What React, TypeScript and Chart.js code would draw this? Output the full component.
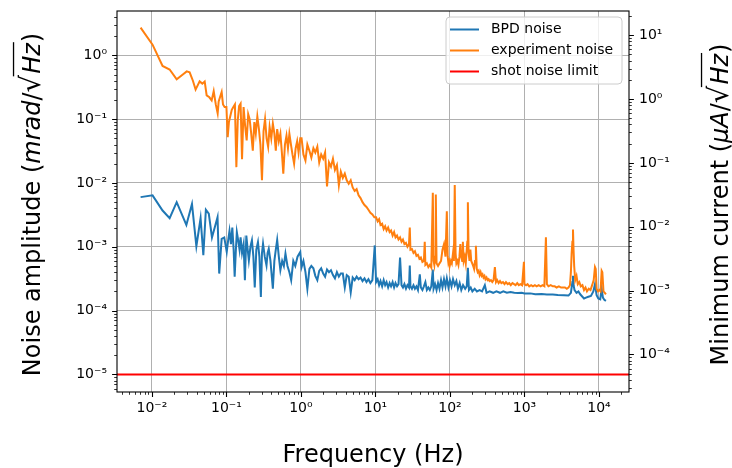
import React, { useEffect, useRef } from 'react';
import { Chart, registerables } from 'chart.js';

Chart.register(...registerables);

// ---- axis limits & ticks ----
const X_MIN = 0.0034;
const X_MAX = 25300;
const Y_MIN = 5.3e-6;
const Y_MAX = 4.95;
const RIGHT_FACTOR = 4.85; // right axis = left axis * factor
const X_TICKS = [1e-2, 1e-1, 1, 10, 100, 1000, 1e4];
const Y_TICKS = [1e-5, 1e-4, 1e-3, 1e-2, 1e-1, 1];
const Y2_TICKS = [1e-4, 1e-3, 1e-2, 1e-1, 1, 10];

const SERIES_LABELS = ['BPD noise', 'experiment noise', 'shot noise limit'];
const SERIES_COLORS = ['#1f77b4', '#ff7f0e', '#ff0000'];
const X_TITLE = 'Frequency (Hz)';

// ---- BPD noise: [frequency Hz, amplitude] ----
const bpdNoise: [number, number][] = [
  [0.00705, 0.006], [0.0102, 0.0064], [0.0139, 0.0037], [0.0173, 0.0028], [0.0215, 0.005],
  [0.029, 0.0022], [0.0345, 0.0047], [0.0395, 0.00102], [0.045, 0.0028], [0.049, 0.00074],
  [0.053, 0.0038], [0.058, 0.0033], [0.064, 0.0014], [0.076, 0.0029], [0.08, 0.00038],
  [0.0863, 0.00133], [0.0935, 0.0014], [0.101, 0.00083], [0.105, 0.0012], [0.11, 0.00177],
  [0.115, 0.0011], [0.12, 0.002], [0.125, 0.0009], [0.129, 0.00034], [0.134, 0.0009],
  [0.138, 0.0017], [0.144, 0.00126], [0.15, 0.0009], [0.155, 0.0014], [0.162, 0.0008],
  [0.17, 0.0011], [0.177, 0.0003], [0.185, 0.0015], [0.193, 0.0009], [0.2, 0.00061],
  [0.21, 0.001], [0.22, 0.00126], [0.23, 0.0007], [0.24, 0.00023], [0.252, 0.0009],
  [0.265, 0.00118], [0.277, 0.0007], [0.29, 0.000163], [0.3, 0.0008], [0.31, 0.00112],
  [0.327, 0.0007], [0.345, 0.00051], [0.357, 0.0008], [0.37, 0.00093], [0.39, 0.0006],
  [0.42, 0.00022], [0.44, 0.0006], [0.46, 0.0009], [0.48, 0.00128], [0.505, 0.0007],
  [0.53, 0.00043], [0.56, 0.0006], [0.59, 0.0005], [0.62, 0.00078], [0.66, 0.0005],
  [0.7, 0.0004], [0.74, 0.0003], [0.79, 0.0006], [0.84, 0.0005], [0.9, 0.0007],
  [0.98, 0.00083], [1.02, 0.00048], [1.08, 0.0006], [1.15, 0.0004], [1.22, 0.00022],
  [1.3, 0.00045], [1.38, 0.0005], [1.47, 0.00046], [1.56, 0.00035], [1.66, 0.0003],
  [1.76, 0.00042], [1.87, 0.00046], [1.99, 0.00038], [2.11, 0.00034], [2.24, 0.00044],
  [2.38, 0.0004], [2.53, 0.00043], [2.69, 0.00036], [2.86, 0.00032], [3.04, 0.0004],
  [3.23, 0.00034], [3.43, 0.00038], [3.65, 0.00038], [3.88, 0.00023], [4.12, 0.00036],
  [4.38, 0.00034], [4.66, 0.000193], [4.95, 0.00033], [5.26, 0.0003], [5.59, 0.00034],
  [5.94, 0.00031], [6.31, 0.00033], [6.71, 0.00029], [7.13, 0.00032], [7.58, 0.00028],
  [8.05, 0.00031], [8.56, 0.00027], [9.1, 0.0003], [9.79, 0.00105], [10.2, 0.00028],
  [10.7, 0.00031], [11.2, 0.00025], [11.7, 0.00029], [12.3, 0.00024], [12.9, 0.0003],
  [13.5, 0.00025], [14.1, 0.00028], [14.8, 0.00023], [15.5, 0.00027], [16.2, 0.00024],
  [17.0, 0.00028], [17.8, 0.00023], [18.6, 0.00027], [19.5, 0.00024], [20.4, 0.00026],
  [21.4, 0.00068], [22.4, 0.00025], [23.4, 0.00023], [24.5, 0.00026], [25.7, 0.00022],
  [26.9, 0.00025], [28.2, 0.00023], [28.9, 0.00051], [29.5, 0.00024], [30.9, 0.00022],
  [32.4, 0.00025], [33.9, 0.00022], [35.5, 0.00024], [37.2, 0.00021], [39.4, 0.00037],
  [40.7, 0.00023], [42.7, 0.00021], [44.7, 0.00024], [46.8, 0.00028], [49.0, 0.00021],
  [51.3, 0.00023], [53.7, 0.00021], [56.2, 0.00024], [58.9, 0.00044], [60.3, 0.00022],
  [63.1, 0.00026], [66.1, 0.00021], [69.2, 0.00027], [72.4, 0.00022], [75.9, 0.0003],
  [79.4, 0.00023], [83.2, 0.00031], [87.1, 0.00024], [90.8, 0.00032], [95.5, 0.00023],
  [100, 0.0003], [105, 0.00024], [110, 0.00031], [116, 0.00025], [122, 0.00029],
  [128, 0.00022], [135, 0.00027], [142, 0.00021], [150, 0.00025], [160, 0.00022],
  [168, 0.00024], [174, 0.00047], [180, 0.00021], [190, 0.00023], [200, 0.0002],
  [215, 0.00022], [230, 0.0002], [250, 0.00021], [270, 0.0002], [294, 0.00025],
  [310, 0.00019], [340, 0.0002], [380, 0.00019], [420, 0.0002], [470, 0.00019],
  [520, 0.0002], [580, 0.00019], [650, 0.000195], [730, 0.00019], [820, 0.000188],
  [920, 0.00019], [1000, 0.000185], [1200, 0.000186], [1400, 0.00018], [1700, 0.000182],
  [2000, 0.000178], [2400, 0.000178], [2800, 0.000175], [3400, 0.000174], [3900, 0.000172],
  [4200, 0.00019], [4400, 0.00028], [4480, 0.00035], [4560, 0.00025], [4700, 0.00021],
  [5000, 0.00019], [5300, 0.0002], [5600, 0.00018], [6000, 0.000165], [6300, 0.000155],
  [6700, 0.00016], [7200, 0.000165], [7800, 0.00017], [8400, 0.0002], [8840, 0.00026],
  [9300, 0.000175], [9800, 0.000155], [10400, 0.00015], [10870, 0.00022], [11300, 0.00016],
  [11800, 0.000148], [12400, 0.000142],
];

// ---- experiment noise: [frequency Hz, amplitude] ----
const experimentNoise: [number, number][] = [
  [0.00705, 2.72], [0.0102, 1.47], [0.0139, 0.68], [0.0173, 0.6], [0.0215, 0.42],
  [0.026, 0.5], [0.0293, 0.56], [0.0321, 0.54], [0.0355, 0.4], [0.0386, 0.29],
  [0.0437, 0.39], [0.0475, 0.36], [0.0511, 0.39], [0.0543, 0.236], [0.059, 0.22],
  [0.0634, 0.197], [0.0675, 0.275], [0.072, 0.17], [0.0763, 0.123], [0.0787, 0.19],
  [0.0863, 0.266], [0.09, 0.17], [0.0946, 0.155], [0.1, 0.155], [0.104, 0.052],
  [0.108, 0.09], [0.112, 0.108], [0.118, 0.14], [0.124, 0.155], [0.13, 0.17],
  [0.136, 0.0177], [0.142, 0.096], [0.148, 0.16], [0.155, 0.175], [0.162, 0.0235],
  [0.17, 0.155], [0.178, 0.08], [0.187, 0.0465], [0.196, 0.12], [0.205, 0.1],
  [0.215, 0.06], [0.226, 0.032], [0.237, 0.09], [0.248, 0.06], [0.26, 0.11],
  [0.273, 0.07], [0.286, 0.04], [0.3, 0.011], [0.315, 0.065], [0.33, 0.1],
  [0.346, 0.05], [0.363, 0.037], [0.38, 0.075], [0.4, 0.05], [0.42, 0.085],
  [0.44, 0.06], [0.46, 0.032], [0.48, 0.07], [0.505, 0.045], [0.53, 0.059],
  [0.555, 0.03], [0.58, 0.014], [0.61, 0.04], [0.64, 0.055], [0.67, 0.035],
  [0.7, 0.059], [0.735, 0.04], [0.77, 0.028], [0.81, 0.02], [0.85, 0.035],
  [0.89, 0.045], [0.93, 0.03], [0.98, 0.05], [1.02, 0.05], [1.08, 0.028],
  [1.15, 0.0225], [1.22, 0.04], [1.3, 0.032], [1.38, 0.025], [1.47, 0.035],
  [1.56, 0.03], [1.66, 0.037], [1.76, 0.021], [1.87, 0.028], [1.99, 0.024],
  [2.11, 0.03], [2.24, 0.0088], [2.38, 0.021], [2.53, 0.018], [2.69, 0.024],
  [2.86, 0.016], [3.04, 0.019], [3.23, 0.0092], [3.43, 0.015], [3.65, 0.012],
  [3.88, 0.014], [4.12, 0.011], [4.38, 0.0097], [4.66, 0.011], [4.95, 0.0085],
  [5.26, 0.0075], [5.59, 0.008], [5.94, 0.0064], [6.31, 0.0058], [6.71, 0.005],
  [7.13, 0.0045], [7.58, 0.0042], [8.05, 0.0038], [8.56, 0.0034], [9.1, 0.0032],
  [9.67, 0.0029], [10.2, 0.0029], [10.7, 0.0025], [11.2, 0.0027], [11.7, 0.0022],
  [12.3, 0.0023], [12.9, 0.0019], [13.5, 0.0021], [14.1, 0.0018], [14.8, 0.002],
  [15.5, 0.0017], [16.2, 0.0018], [17.0, 0.0015], [17.8, 0.0017], [18.6, 0.0014],
  [19.5, 0.0015], [20.4, 0.0013], [21.4, 0.0014], [22.4, 0.0012], [23.4, 0.0013],
  [24.5, 0.0011], [25.7, 0.00115], [26.9, 0.001], [28.2, 0.0011], [28.9, 0.002],
  [29.5, 0.0009], [30.9, 0.00092], [32.4, 0.0008], [33.9, 0.00085], [35.5, 0.00072],
  [37.2, 0.00075], [38.9, 0.00065], [40.7, 0.00068], [42.7, 0.00058], [44.7, 0.0006],
  [45.9, 0.0012], [46.8, 0.00052], [49.0, 0.00055], [51.3, 0.00048], [53.7, 0.00052],
  [56.2, 0.00047], [58.9, 0.007], [60.3, 0.0006], [61.7, 0.00052], [63.1, 0.0007],
  [64.6, 0.0066], [66.1, 0.00055], [69.2, 0.0005], [72.4, 0.00055], [75.9, 0.0006],
  [79.4, 0.0009], [83.2, 0.0011], [87.1, 0.0007], [90.8, 0.0036], [93.3, 0.0007],
  [95.5, 0.00055], [97.7, 0.0006], [100, 0.00052], [103, 0.0006], [106, 0.00055],
  [110, 0.0008], [113, 0.0006], [116, 0.0093], [119, 0.0008], [122, 0.00055],
  [126, 0.0006], [130, 0.00052], [134, 0.0007], [138, 0.0011], [142, 0.0007],
  [146, 0.0006], [149, 0.0012], [153, 0.0006], [158, 0.0007], [163, 0.00055],
  [168, 0.0009], [171, 0.0012], [174, 0.005], [178, 0.0008], [183, 0.0006],
  [188, 0.0009], [193, 0.0006], [199, 0.00055], [205, 0.0005], [211, 0.00045],
  [217, 0.0006], [223, 0.00104], [229, 0.00045], [236, 0.0004], [243, 0.00042],
  [250, 0.00036], [258, 0.0004], [266, 0.00035], [274, 0.00037], [282, 0.00033],
  [291, 0.00035], [300, 0.00031], [310, 0.00033], [320, 0.0003], [330, 0.00031],
  [340, 0.00029], [355, 0.0003], [370, 0.00028], [385, 0.0003], [401, 0.00048],
  [415, 0.00028], [430, 0.0003], [450, 0.00027], [470, 0.00029], [490, 0.00027],
  [515, 0.00028], [540, 0.00026], [565, 0.00028], [595, 0.00026], [625, 0.00027],
  [655, 0.00025], [690, 0.00027], [725, 0.00026], [760, 0.00025], [800, 0.00027],
  [840, 0.00025], [880, 0.00026], [930, 0.00025], [984, 0.00058], [1000, 0.00026],
  [1050, 0.00025], [1100, 0.00026], [1160, 0.00024], [1230, 0.00025], [1300, 0.00024],
  [1380, 0.00025], [1460, 0.00024], [1550, 0.00025], [1650, 0.00024], [1750, 0.00025],
  [1850, 0.00024], [1941, 0.00141], [2000, 0.00026], [2100, 0.00024], [2250, 0.00025],
  [2400, 0.00024], [2550, 0.00024], [2700, 0.00023], [2900, 0.00024], [3100, 0.00023],
  [3300, 0.00023], [3500, 0.00023], [3700, 0.00022], [3900, 0.00023], [4080, 0.00025],
  [4200, 0.0004], [4300, 0.0008], [4400, 0.0012], [4480, 0.00187], [4560, 0.0009],
  [4650, 0.0005], [4800, 0.0003], [5000, 0.00035], [5200, 0.00026], [5450, 0.00028],
  [5700, 0.00024], [6000, 0.00025], [6300, 0.00021], [6600, 0.00023], [6900, 0.0002],
  [7300, 0.00022], [7700, 0.00021], [8100, 0.00025], [8500, 0.0003], [8840, 0.00048],
  [9050, 0.00045], [9300, 0.00022], [9700, 0.0002], [10100, 0.00021], [10500, 0.0002],
  [10870, 0.00042], [11100, 0.0004], [11500, 0.0002], [12000, 0.00019], [12400, 0.00018],
];

// ---- shot noise limit ----
const SHOT_LEVEL = 1e-5;

const FONT = '"DejaVu Sans", sans-serif';
const SUP: Record<string, string> = {
  '-': '\u207B', '0': '\u2070', '1': '\u00B9', '2': '\u00B2', '3': '\u00B3',
  '4': '\u2074', '5': '\u2075', '6': '\u2076', '7': '\u2077', '8': '\u2078', '9': '\u2079',
};
const fmtPow = (v: number) => {
  const e = Math.round(Math.log10(v));
  return '10' + String(e).split('').map((c) => SUP[c]).join('');
};

type Part = { t: string; it?: boolean; sqrt?: boolean };
const LEFT_TITLE: Part[] = [
  { t: 'Noise amplitude (' }, { t: 'mrad', it: true }, { t: '/' }, { t: 'Hz', sqrt: true }, { t: ')' },
];
const RIGHT_TITLE: Part[] = [
  { t: 'Minimum current (' }, { t: '\u03BCA', it: true }, { t: '/' }, { t: 'Hz', sqrt: true }, { t: ')' },
];

function partFont(it: boolean | undefined, size: number) {
  return `${it ? 'italic ' : ''}${size}px ${FONT}`;
}

function richWidth(ctx: CanvasRenderingContext2D, parts: Part[], size: number) {
  let w = 0;
  for (const p of parts) {
    if (p.sqrt) {
      ctx.font = partFont(false, size * 1.15);
      w += ctx.measureText('\u221A').width;
      ctx.font = partFont(true, size);
      w += ctx.measureText(p.t).width + 2;
    } else {
      ctx.font = partFont(p.it, size);
      w += ctx.measureText(p.t).width;
    }
  }
  return w;
}

function drawRich(ctx: CanvasRenderingContext2D, parts: Part[], size: number, x0: number) {
  let x = x0;
  ctx.textBaseline = 'alphabetic';
  ctx.textAlign = 'left';
  for (const p of parts) {
    if (p.sqrt) {
      ctx.font = partFont(false, size * 1.15);
      ctx.fillText('\u221A', x, 0);
      const gw = ctx.measureText('\u221A').width;
      x += gw;
      ctx.font = partFont(true, size);
      const rw = ctx.measureText(p.t).width + 2;
      ctx.fillText(p.t, x + 1, 0);
      ctx.fillRect(x - 1.5, -size * 1.13, rw + 1.5, 1.3);
      x += rw;
    } else {
      ctx.font = partFont(p.it, size);
      ctx.fillText(p.t, x, 0);
      x += ctx.measureText(p.t).width;
    }
  }
}

function logMinorValues(min: number, max: number) {
  const out: number[] = [];
  for (let d = Math.floor(Math.log10(min)); d <= Math.ceil(Math.log10(max)); d++) {
    for (let k = 2; k <= 9; k++) {
      const v = k * Math.pow(10, d);
      if (v >= min && v <= max) out.push(v);
    }
  }
  return out;
}

const decorPlugin = {
  id: 'decor',
  afterDraw(chart: any) {
    const { ctx, chartArea: a, scales } = chart;
    ctx.save();
    ctx.fillStyle = '#000';
    ctx.strokeStyle = '#000';

    // tick marks
    const tick = (scale: any, vals: number[], len: number, lw: number, side: string) => {
      ctx.lineWidth = lw;
      ctx.beginPath();
      for (const v of vals) {
        if (v < scale.min || v > scale.max) continue;
        const p = Math.round(scale.getPixelForValue(v)) + 0.5;
        if (side === 'left') { ctx.moveTo(a.left, p); ctx.lineTo(a.left - len, p); }
        if (side === 'right') { ctx.moveTo(a.right, p); ctx.lineTo(a.right + len, p); }
        if (side === 'bottom') { ctx.moveTo(p, a.bottom); ctx.lineTo(p, a.bottom + len); }
      }
      ctx.stroke();
    };
    tick(scales.x, logMinorValues(X_MIN, X_MAX), 2.8, 0.8, 'bottom');
    tick(scales.x, X_TICKS, 4.9, 1.1, 'bottom');
    tick(scales.y, logMinorValues(Y_MIN, Y_MAX), 2.8, 0.8, 'left');
    tick(scales.y, Y_TICKS, 4.9, 1.1, 'left');
    tick(scales.y2, logMinorValues(Y_MIN * RIGHT_FACTOR, Y_MAX * RIGHT_FACTOR), 2.8, 0.8, 'right');
    tick(scales.y2, Y2_TICKS, 4.9, 1.1, 'right');

    // frame
    ctx.lineWidth = 1.1;
    ctx.strokeRect(a.left, a.top, a.right - a.left, a.bottom - a.top);

    // legend
    const lx = 446, ly = 17, lw = 176, lh = 67;
    ctx.beginPath();
    const r = 4;
    ctx.moveTo(lx + r, ly);
    ctx.arcTo(lx + lw, ly, lx + lw, ly + lh, r);
    ctx.arcTo(lx + lw, ly + lh, lx, ly + lh, r);
    ctx.arcTo(lx, ly + lh, lx, ly, r);
    ctx.arcTo(lx, ly, lx + lw, ly, r);
    ctx.closePath();
    ctx.fillStyle = 'rgba(255,255,255,0.8)';
    ctx.fill();
    ctx.strokeStyle = '#cccccc';
    ctx.lineWidth = 1;
    ctx.stroke();
    chart.data.datasets.forEach((ds: any, i: number) => {
      const yy = 29.5 + i * 21;
      ctx.strokeStyle = ds.borderColor;
      ctx.lineWidth = 2;
      ctx.beginPath();
      ctx.moveTo(450, yy);
      ctx.lineTo(479, yy);
      ctx.stroke();
      ctx.fillStyle = '#000';
      ctx.font = `14px ${FONT}`;
      ctx.textAlign = 'left';
      ctx.textBaseline = 'middle';
      ctx.fillText(ds.label, 491, yy);
    });

    // axis titles
    ctx.fillStyle = '#000';
    const size = 24;
    ctx.font = `${size}px ${FONT}`;
    ctx.textAlign = 'center';
    ctx.textBaseline = 'alphabetic';
    ctx.fillText(X_TITLE, (a.left + a.right) / 2, 462);

    const cy = (a.top + a.bottom) / 2 + 3;
    const wl = richWidth(ctx, LEFT_TITLE, size);
    ctx.save();
    ctx.translate(40, cy);
    ctx.rotate(-Math.PI / 2);
    drawRich(ctx, LEFT_TITLE, size, -wl / 2);
    ctx.restore();

    const wr = richWidth(ctx, RIGHT_TITLE, size);
    ctx.save();
    ctx.translate(728, cy);
    ctx.rotate(-Math.PI / 2);
    drawRich(ctx, RIGHT_TITLE, size, -wr / 2);
    ctx.restore();

    ctx.restore();
  },
};

export default function App() {
  const ref = useRef<HTMLCanvasElement | null>(null);
  useEffect(() => {
    if (!ref.current) return;
    const toPts = (rows: [number, number][]) => rows.map(([x, y]) => ({ x, y }));
    const tickFont = { family: FONT, size: 14 };
    const zeroPad = (s: any) => {
      s.paddingTop = 0; s.paddingBottom = 0; s.paddingLeft = 0; s.paddingRight = 0;
    };
    const chart = new Chart(ref.current, {
      type: 'line',
      data: {
        datasets: [
          {
            label: SERIES_LABELS[0],
            data: toPts(bpdNoise),
            borderColor: SERIES_COLORS[0],
            borderWidth: 2,
            pointRadius: 0,
            tension: 0,
            order: 3,
            yAxisID: 'y',
          },
          {
            label: SERIES_LABELS[1],
            data: toPts(experimentNoise),
            borderColor: SERIES_COLORS[1],
            borderWidth: 2,
            pointRadius: 0,
            tension: 0,
            order: 2,
            yAxisID: 'y',
          },
          {
            label: SERIES_LABELS[2],
            data: [{ x: X_MIN, y: SHOT_LEVEL }, { x: X_MAX, y: SHOT_LEVEL }],
            borderColor: SERIES_COLORS[2],
            borderWidth: 2,
            pointRadius: 0,
            tension: 0,
            order: 1,
            yAxisID: 'y',
          },
        ],
      },
      options: {
        animation: false,
        responsive: false,
        devicePixelRatio: 1,
        layout: { padding: { top: 11, left: 0, right: 0, bottom: 0 } },
        plugins: { legend: { display: false }, tooltip: { enabled: false } },
        scales: {
          x: {
            type: 'logarithmic',
            position: 'bottom',
            min: X_MIN,
            max: X_MAX,
            afterBuildTicks: (s: any) => { s.ticks = X_TICKS.map((v) => ({ value: v })); },
            afterFit: (s: any) => { s.height = 76; zeroPad(s); },
            grid: { color: '#b0b0b0', lineWidth: 1, drawTicks: false },
            border: { display: false },
            ticks: {
              callback: (v: any) => fmtPow(Number(v)),
              color: '#000',
              font: tickFont,
              padding: 8,
              autoSkip: false,
              maxRotation: 0,
            },
          },
          y: {
            type: 'logarithmic',
            position: 'left',
            min: Y_MIN,
            max: Y_MAX,
            afterBuildTicks: (s: any) => { s.ticks = Y_TICKS.map((v) => ({ value: v })); },
            afterFit: (s: any) => { s.width = 117; zeroPad(s); },
            grid: { color: '#b0b0b0', lineWidth: 1, drawTicks: false },
            border: { display: false },
            ticks: {
              callback: (v: any) => fmtPow(Number(v)),
              color: '#000',
              font: tickFont,
              padding: 10,
              autoSkip: false,
            },
          },
          y2: {
            type: 'logarithmic',
            position: 'right',
            display: true,
            min: Y_MIN * RIGHT_FACTOR,
            max: Y_MAX * RIGHT_FACTOR,
            afterBuildTicks: (s: any) => { s.ticks = Y2_TICKS.map((v) => ({ value: v })); },
            afterFit: (s: any) => { s.width = 103; zeroPad(s); },
            grid: { display: false, drawTicks: false },
            border: { display: false },
            ticks: {
              callback: (v: any) => fmtPow(Number(v)),
              color: '#000',
              font: tickFont,
              padding: 10,
              autoSkip: false,
            },
          },
        },
      } as any,
      plugins: [decorPlugin],
    });
    return () => chart.destroy();
  }, []);

  return (
    <div style={{ position: 'fixed', left: 0, top: 0, width: 732, height: 468, background: '#fff' }}>
      <canvas ref={ref} width={732} height={468} style={{ width: 732, height: 468, display: 'block' }} />
    </div>
  );
}
